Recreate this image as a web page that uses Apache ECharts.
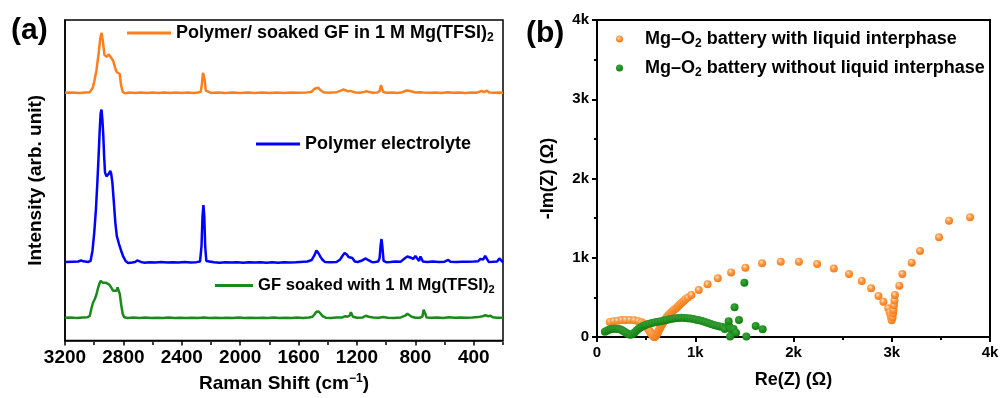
<!DOCTYPE html>
<html>
<head>
<meta charset="utf-8">
<script src="https://cdn.jsdelivr.net/npm/echarts@6.0.0/dist/echarts.min.js"></script>
<style>
  html, body { margin: 0; padding: 0; background: #fff; }
  #chart { width: 1002px; height: 398px; }
</style>
</head>
<body>
<div id="chart"></div>
<script>
// ---- panel (a): Raman spectra, [wavenumber, stacked intensity] ----
const ramanTicks = [3200, 2800, 2400, 2000, 1600, 1200, 800, 400];
const ramanMinorTicks = [3000, 2600, 2200, 1800, 1400, 1000, 600, 200];

const soakedPolymer = [
  [3200, 249], [3150, 249.3], [3100, 248.8], [3060, 249.2], [3030, 249.5], [3010, 254], [3000, 260],
  [2985, 271], [2970, 288], [2958, 304], [2949, 309], [2940, 300], [2930, 287], [2915, 285],
  [2900, 287.5], [2888, 286], [2870, 281], [2855, 273], [2845, 269.5], [2835, 271], [2826, 268],
  [2815, 256], [2805, 250], [2790, 248.3], [2760, 249.2], [2720, 248.6], [2680, 249.3], [2640, 248.8],
  [2600, 249.2], [2560, 248.7], [2520, 249.3], [2480, 248.8], [2440, 249.1], [2400, 248.7], [2360, 249.2],
  [2320, 248.8], [2290, 249.2], [2270, 250], [2262, 258], [2255, 269], [2250, 270.5], [2243, 262],
  [2236, 251], [2228, 249], [2200, 248.8], [2150, 249.2], [2100, 248.7], [2050, 249.3], [2000, 248.8],
  [1950, 249.2], [1900, 248.7], [1850, 249.1], [1800, 248.8], [1750, 249.2], [1700, 248.7], [1650, 249.2],
  [1600, 248.9], [1540, 249.3], [1510, 250], [1490, 253], [1478, 255], [1465, 254], [1450, 251.5],
  [1430, 249.5], [1400, 249], [1370, 249.3], [1340, 249.5], [1310, 251], [1295, 252.2], [1280, 251.5],
  [1262, 250.3], [1245, 250.8], [1230, 250], [1210, 249.3], [1180, 248.9], [1150, 249.8], [1135, 250.5],
  [1118, 249.6], [1090, 249], [1060, 249.2], [1045, 250.5], [1036, 256.5], [1030, 256], [1022, 250],
  [1000, 249], [960, 249.2], [920, 248.8], [890, 249.5], [860, 251.2], [845, 251], [830, 250.5],
  [800, 249.2], [770, 249.5], [760, 250.5], [748, 249.3], [700, 249], [660, 249.3], [620, 248.8],
  [580, 249.4], [540, 248.9], [500, 249.2], [460, 248.8], [420, 249.2], [380, 249], [345, 250.8],
  [330, 249.5], [310, 251], [295, 249.2], [260, 249], [230, 249.3], [200, 249]
];

const polymerElectrolyte = [
  [3200, 79], [3150, 79.3], [3110, 79.5], [3090, 80.5], [3075, 79.6], [3040, 79], [3025, 80], [3012, 90],
  [3000, 108], [2988, 132], [2978, 160], [2970, 185], [2962, 212], [2956, 228], [2950, 232], [2944, 222],
  [2938, 207], [2932, 185], [2926, 169], [2916, 165], [2908, 164], [2898, 168], [2890, 170.5], [2884, 168],
  [2875, 158], [2865, 138], [2855, 118], [2845, 105], [2830, 97], [2815, 90], [2800, 84], [2785, 80],
  [2768, 78], [2740, 78.5], [2720, 79], [2705, 80.5], [2695, 81], [2680, 79], [2660, 78.3], [2620, 78.8],
  [2580, 78.4], [2540, 78.9], [2500, 78.5], [2460, 78.8], [2420, 78.4], [2380, 78.9], [2340, 78.5],
  [2300, 78.8], [2275, 79.5], [2265, 95], [2258, 125], [2252, 136], [2246, 125], [2240, 95], [2232, 80],
  [2220, 78.5], [2180, 78.6], [2140, 78.3], [2100, 78.7], [2060, 78.4], [2020, 78.7], [1980, 78.3],
  [1940, 78.7], [1900, 78.4], [1860, 78.6], [1820, 78.3], [1780, 78.6], [1740, 78.3], [1700, 78.6],
  [1660, 78.4], [1620, 78.7], [1590, 79], [1540, 79.5], [1510, 81], [1490, 86], [1478, 90.5], [1465, 88],
  [1450, 84], [1435, 81], [1420, 79], [1380, 78.6], [1340, 79], [1315, 81.5], [1300, 85], [1285, 88],
  [1270, 86.5], [1258, 84], [1245, 84.5], [1232, 83], [1215, 79.5], [1195, 79], [1165, 80.5], [1140, 82.5],
  [1125, 81], [1100, 79], [1080, 78.8], [1055, 79.5], [1045, 83], [1038, 96], [1032, 102], [1026, 94],
  [1018, 80], [1000, 78.8], [970, 79], [940, 79.5], [900, 79.3], [870, 83], [855, 84.5], [835, 83.5],
  [815, 82], [800, 85], [790, 84], [775, 80], [765, 84.5], [757, 86], [749, 79.5], [720, 79], [680, 79.4],
  [640, 79], [600, 79.3], [575, 81], [560, 79.3], [520, 79], [480, 79.3], [440, 79.1], [400, 79.4],
  [370, 79.7], [355, 82], [345, 84], [335, 81.5], [322, 85], [312, 84], [298, 79], [270, 79.2],
  [240, 79.5], [225, 82.5], [212, 80.5], [200, 78.5]
];

const soakedGF = [
  [3200, 23], [3160, 23.3], [3120, 22.8], [3080, 23.2], [3045, 23.5], [3030, 25], [3018, 33], [3008, 38],
  [2995, 42], [2985, 46], [2975, 52], [2965, 57], [2955, 60], [2948, 60.5], [2940, 58], [2930, 57],
  [2918, 58], [2905, 57.5], [2895, 56], [2882, 53], [2870, 50], [2858, 48.5], [2848, 50], [2840, 53.5],
  [2833, 53], [2825, 47], [2815, 36], [2805, 27], [2795, 23.5], [2770, 22.8], [2730, 23.2], [2690, 22.7],
  [2650, 23.1], [2610, 22.6], [2570, 23], [2530, 22.7], [2490, 23.1], [2450, 22.6], [2410, 23],
  [2370, 22.7], [2330, 23], [2290, 22.6], [2250, 23.1], [2210, 22.7], [2170, 23], [2130, 22.6],
  [2090, 23], [2050, 22.7], [2010, 23.1], [1970, 22.7], [1930, 23], [1890, 22.6], [1850, 23],
  [1810, 22.7], [1770, 23.1], [1730, 22.7], [1690, 23], [1650, 22.7], [1610, 23.1], [1570, 22.8],
  [1530, 23.2], [1505, 24], [1490, 26.5], [1478, 29], [1462, 29.3], [1450, 27.5], [1435, 24.5],
  [1415, 23], [1380, 22.8], [1340, 23.1], [1300, 23.3], [1280, 24.5], [1265, 24], [1250, 25],
  [1242, 28.5], [1235, 28], [1228, 24], [1200, 23], [1160, 23.3], [1140, 25], [1132, 25.5], [1120, 24],
  [1090, 23.2], [1050, 23], [1020, 23.6], [990, 23], [950, 22.8], [900, 23.3], [870, 25], [855, 27],
  [845, 26], [825, 24], [800, 23], [770, 22.9], [752, 24], [744, 31], [738, 32.5], [732, 27],
  [724, 23.2], [690, 23], [650, 23.2], [610, 22.8], [570, 23.5], [530, 23], [490, 23.2], [450, 22.9],
  [410, 23.2], [370, 23.6], [340, 24.5], [320, 25.5], [300, 24.5], [285, 25], [270, 23.5], [240, 23],
  [200, 23]
];

// ---- panel (b): Nyquist plot, [Re(Z), -Im(Z)] in ohm ----
const withInterphase = [
  [130, 190], [170, 200], [210, 205], [250, 213], [290, 215], [335, 215], [380, 210], [420, 200],
  [455, 185], [475, 170], [490, 155], [500, 138], [510, 120], [520, 103], [530, 85], [538, 70],
  [545, 55], [553, 42], [560, 30], [568, 20], [575, 10], [580, 4], [585, 0], [590, 4], [595, 10],
  [600, 20], [606, 30], [612, 42], [617, 55], [623, 70], [630, 85], [637, 103], [645, 120], [652, 138],
  [660, 155], [667, 170], [675, 185], [683, 200], [690, 215], [698, 228], [705, 240], [713, 253],
  [720, 265], [730, 278], [740, 290], [750, 303], [760, 315], [772, 330], [785, 345], [798, 358],
  [810, 370], [822, 385], [835, 400], [850, 418], [865, 435], [882, 455], [900, 475], [925, 498],
  [960, 530], [1035, 593], [1125, 665], [1230, 740], [1365, 815], [1510, 875], [1680, 930],
  [1870, 950], [2055, 950], [2240, 920], [2410, 865], [2565, 795], [2695, 707], [2790, 615],
  [2865, 518], [2915, 446], [2965, 362], [2980, 310], [2990, 275], [2995, 240], [3000, 212],
  [3008, 250], [3014, 300], [3018, 340], [3023, 400], [3028, 460], [3032, 530], [3077, 648],
  [3108, 795], [3203, 938], [3288, 1085], [3481, 1258], [3583, 1468], [3797, 1510]
];

const withoutInterphase = [
  [80, 67], [100, 80], [120, 92], [140, 99], [160, 103], [180, 105], [200, 105], [220, 102], [240, 94],
  [260, 82], [280, 66], [300, 50], [320, 36], [340, 28], [360, 35], [380, 55], [400, 80], [420, 100],
  [440, 118], [460, 132], [480, 145], [500, 156], [530, 168], [560, 177], [590, 185], [620, 192],
  [650, 200], [680, 208], [710, 216], [740, 223], [770, 230], [800, 236], [830, 240], [860, 242],
  [890, 241], [920, 238], [950, 233], [980, 226], [1010, 219], [1040, 211], [1070, 201], [1100, 189],
  [1130, 176], [1160, 164], [1190, 152], [1220, 142], [1250, 134], [1280, 126], [1310, 118], [1330, 112],
  [1300, 100], [1350, 130], [1365, 95], [1390, 100], [1415, 55], [1355, 5], [1340, 200], [1400, 375],
  [1445, 215], [1500, 685], [1520, 5], [1615, 140], [1686, 97]
];

const axisText = { color: '#000', fontFamily: 'Liberation Sans', fontWeight: 'bold' };
function subRich(size, subSize, drop) {
  return {
    n: { fontSize: size, fontWeight: 'bold', fontFamily: 'Liberation Sans', color: '#000' },
    s: { fontSize: subSize, fontWeight: 'bold', fontFamily: 'Liberation Sans', color: '#000', padding: [drop, 0, 0, 0] }
  };
}
const legendLabels = {
  'Polymer/ soaked GF in 1 M Mg(TFSI)2': '{n|Polymer/ soaked GF in 1 M Mg(TFSI)}{s|2}',
  'Polymer electrolyte': '{n|Polymer electrolyte}',
  'GF soaked with 1 M Mg(TFSI)2': '{n|GF soaked with 1 M Mg(TFSI)}{s|2}',
  'Mg-O2 battery with liquid interphase': '{n|Mg–O}{s|2}{n| battery with liquid interphase}',
  'Mg-O2 battery without liquid interphase': '{n|Mg–O}{s|2}{n| battery without liquid interphase}'
};

function lineLegend(name, left, top, width, size) {
  return {
    data: [name], left: left, top: top, icon: 'rect', itemWidth: width, itemHeight: 3, selectedMode: false,
    formatter: n => legendLabels[n], textStyle: { rich: subRich(size, size * 0.67, size / 2) }
  };
}
function dotLegend(name, left, top) {
  return {
    data: [name], left: left, top: top, itemWidth: 41, itemHeight: 7, selectedMode: false,
    formatter: n => legendLabels[n], textStyle: { rich: subRich(18, 12, 9) }
  };
}

const orangeDot = {
  type: 'radial', x: 0.4, y: 0.35, r: 0.65,
  colorStops: [{ offset: 0, color: '#ffe2c4' }, { offset: 0.45, color: '#ff9a45' }, { offset: 1, color: '#f27a14' }]
};
const greenDot = {
  type: 'radial', x: 0.4, y: 0.35, r: 0.65,
  colorStops: [{ offset: 0, color: '#3fa43f' }, { offset: 1, color: '#0d800d' }]
};

const chart = echarts.init(document.getElementById('chart'));
chart.setOption({
  animation: false,
  backgroundColor: '#fff',
  graphic: [
    { type: 'text', left: 11, top: 16, style: { text: '(a)', fontSize: 30, fontWeight: 'bold', fontFamily: 'Liberation Sans', fill: '#000' } },
    { type: 'text', left: 526, top: 19, style: { text: '(b)', fontSize: 30, fontWeight: 'bold', fontFamily: 'Liberation Sans', fill: '#000' } }
  ],
  legend: [
    lineLegend('Polymer/ soaked GF in 1 M Mg(TFSI)2', 122, 19, 44, 18),
    lineLegend('Polymer electrolyte', 251, 130, 44, 18),
    lineLegend('GF soaked with 1 M Mg(TFSI)2', 210, 272, 38, 16.6),
    dotLegend('Mg-O2 battery with liquid interphase', 611, 25),
    dotLegend('Mg-O2 battery without liquid interphase', 611, 54)
  ],
  grid: [
    { left: 65, right: 499, top: 20, bottom: 56, show: true, borderColor: '#000', borderWidth: 1.5 },
    { left: 597, right: 12, top: 20, bottom: 61, show: true, borderColor: '#000', borderWidth: 2 },
    { left: 65, right: 499, top: 20, bottom: 56 }
  ],
  xAxis: [
    {
      gridIndex: 0, type: 'value', min: 200, max: 3200, inverse: true,
      axisLine: { lineStyle: { color: '#000', width: 1.5 } },
      axisTick: { customValues: ramanTicks, length: 5, lineStyle: { width: 1.5 } },
      axisLabel: { customValues: ramanTicks, fontSize: 19, margin: 8, ...axisText, formatter: v => String(v) },
      splitLine: { show: false },
      name: '{t|Raman Shift (cm}{p|−1}{t|)}', nameLocation: 'middle', nameGap: 31,
      nameTextStyle: {
        rich: {
          t: { fontSize: 19, ...axisText },
          p: { fontSize: 12, ...axisText, padding: [0, 0, 10, 0] }
        }
      }
    },
    {
      gridIndex: 1, type: 'value', min: 0, max: 4000, interval: 1000,
      axisLine: { lineStyle: { color: '#000', width: 2 } },
      axisTick: { length: 5, lineStyle: { width: 2 } },
      minorTick: { show: true, splitNumber: 2, length: 3, lineStyle: { color: '#000', width: 2 } },
      axisLabel: { fontSize: 15, margin: 8, ...axisText, formatter: v => v === 0 ? '0' : v / 1000 + 'k' },
      splitLine: { show: false },
      name: 'Re(Z) (Ω)', nameLocation: 'middle', nameGap: 34,
      nameTextStyle: { fontSize: 18, ...axisText }
    },
    {
      gridIndex: 2, type: 'value', min: 200, max: 3200, inverse: true,
      axisLine: { show: false },
      axisTick: { customValues: ramanMinorTicks, length: 3, lineStyle: { color: '#000', width: 1.5 } },
      axisLabel: { show: false },
      splitLine: { show: false }
    }
  ],
  yAxis: [
    {
      gridIndex: 0, type: 'value', min: 0, max: 322,
      axisLine: { show: true, lineStyle: { color: '#000', width: 1.5 } },
      axisTick: { show: false }, axisLabel: { show: false }, splitLine: { show: false },
      name: 'Intensity (arb. unit)', nameLocation: 'middle', nameGap: 20,
      nameTextStyle: { fontSize: 19, ...axisText }
    },
    {
      gridIndex: 1, type: 'value', min: 0, max: 4000, interval: 1000,
      axisLine: { show: true, lineStyle: { color: '#000', width: 2 } },
      axisTick: { length: 5, lineStyle: { width: 2 } },
      minorTick: { show: true, splitNumber: 2, length: 3, lineStyle: { color: '#000', width: 2 } },
      axisLabel: { fontSize: 15, margin: 8, ...axisText, formatter: v => v === 0 ? '0' : v / 1000 + 'k' },
      splitLine: { show: false },
      name: '-Im(Z) (Ω)', nameLocation: 'middle', nameGap: 40,
      nameTextStyle: { fontSize: 18, ...axisText }
    },
    { gridIndex: 2, type: 'value', show: false, min: 0, max: 322 }
  ],
  series: [
    {
      name: 'Polymer/ soaked GF in 1 M Mg(TFSI)2', type: 'line', xAxisIndex: 0, yAxisIndex: 0,
      data: soakedPolymer, symbol: 'none', color: '#ff7f1e', lineStyle: { width: 2.5, color: '#ff7f1e' }
    },
    {
      name: 'Polymer electrolyte', type: 'line', xAxisIndex: 0, yAxisIndex: 0,
      data: polymerElectrolyte, symbol: 'none', color: '#0000ff', lineStyle: { width: 2.5, color: '#0000ff' }
    },
    {
      name: 'GF soaked with 1 M Mg(TFSI)2', type: 'line', xAxisIndex: 0, yAxisIndex: 0,
      data: soakedGF, symbol: 'none', color: '#1a8a1a', lineStyle: { width: 2.5, color: '#1a8a1a' }
    },
    {
      name: 'Mg-O2 battery with liquid interphase', type: 'scatter', xAxisIndex: 1, yAxisIndex: 1,
      data: withInterphase, symbolSize: 8, itemStyle: { color: orangeDot, opacity: 1 }
    },
    {
      name: 'Mg-O2 battery without liquid interphase', type: 'scatter', xAxisIndex: 1, yAxisIndex: 1,
      data: withoutInterphase, symbolSize: 8, itemStyle: { color: greenDot, opacity: 1 }
    }
  ]
});
</script>
</body>
</html>
